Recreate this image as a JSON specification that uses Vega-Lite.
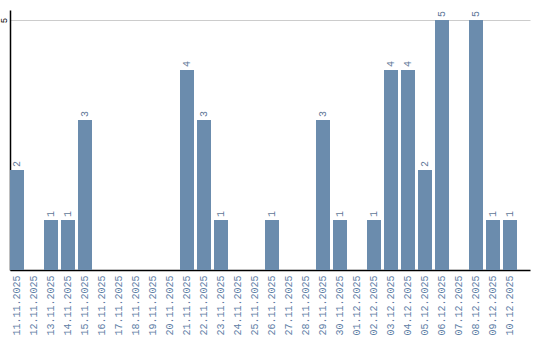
{
  "$schema": "https://vega.github.io/schema/vega-lite/v6.json",
  "width": 520,
  "height": 260,
  "autosize": {"type": "none"},
  "padding": {"left": 10, "top": 10, "right": 10, "bottom": 70},
  "background": "white",
  "config": {"view": {"stroke": null}},
  "data": {"values": [
    {"date": "11.11.2025", "count": 2},
    {"date": "12.11.2025", "count": 0},
    {"date": "13.11.2025", "count": 1},
    {"date": "14.11.2025", "count": 1},
    {"date": "15.11.2025", "count": 3},
    {"date": "16.11.2025", "count": 0},
    {"date": "17.11.2025", "count": 0},
    {"date": "18.11.2025", "count": 0},
    {"date": "19.11.2025", "count": 0},
    {"date": "20.11.2025", "count": 0},
    {"date": "21.11.2025", "count": 4},
    {"date": "22.11.2025", "count": 3},
    {"date": "23.11.2025", "count": 1},
    {"date": "24.11.2025", "count": 0},
    {"date": "25.11.2025", "count": 0},
    {"date": "26.11.2025", "count": 1},
    {"date": "27.11.2025", "count": 0},
    {"date": "28.11.2025", "count": 0},
    {"date": "29.11.2025", "count": 3},
    {"date": "30.11.2025", "count": 1},
    {"date": "01.12.2025", "count": 0},
    {"date": "02.12.2025", "count": 1},
    {"date": "03.12.2025", "count": 4},
    {"date": "04.12.2025", "count": 4},
    {"date": "05.12.2025", "count": 2},
    {"date": "06.12.2025", "count": 5},
    {"date": "07.12.2025", "count": 0},
    {"date": "08.12.2025", "count": 5},
    {"date": "09.12.2025", "count": 1},
    {"date": "10.12.2025", "count": 1}
  ]},
  "encoding": {
    "x": {
      "field": "date", "type": "nominal", "sort": null, "title": null,
      "scale": {"paddingInner": 0.1765, "paddingOuter": 0.3824, "align": 0},
      "axis": {
        "labelAngle": -90, "labelAlign": "right", "labelBaseline": "middle",
        "labelFont": "Liberation Mono", "labelFontSize": 10, "labelColor": "#5f80a6",
        "ticks": false, "labelPadding": 5, "domainColor": "#000000", "domainWidth": 1.5,
        "grid": false
      }
    },
    "y": {
      "field": "count", "type": "quantitative", "title": null,
      "scale": {"domain": [0, 5.2], "nice": false},
      "axis": {
        "values": [5], "labelAngle": -90, "labelAlign": "center", "labelBaseline": "bottom",
        "labelFont": "Liberation Mono", "labelFontSize": 9, "labelColor": "#000000",
        "ticks": false, "labelPadding": 2, "domainColor": "#000000", "domainWidth": 1.5,
        "grid": true, "gridColor": "#cccccc", "gridWidth": 1
      }
    }
  },
  "layer": [
    {"mark": {"type": "bar", "color": "#6b8cad"}},
    {
      "transform": [{"filter": "datum.count > 0"}],
      "mark": {"type": "text", "angle": -90, "align": "left", "baseline": "middle", "dx": 3,
               "font": "Liberation Mono", "fontSize": 10, "color": "#5f7898"},
      "encoding": {"text": {"field": "count", "type": "quantitative"}}
    }
  ]
}
